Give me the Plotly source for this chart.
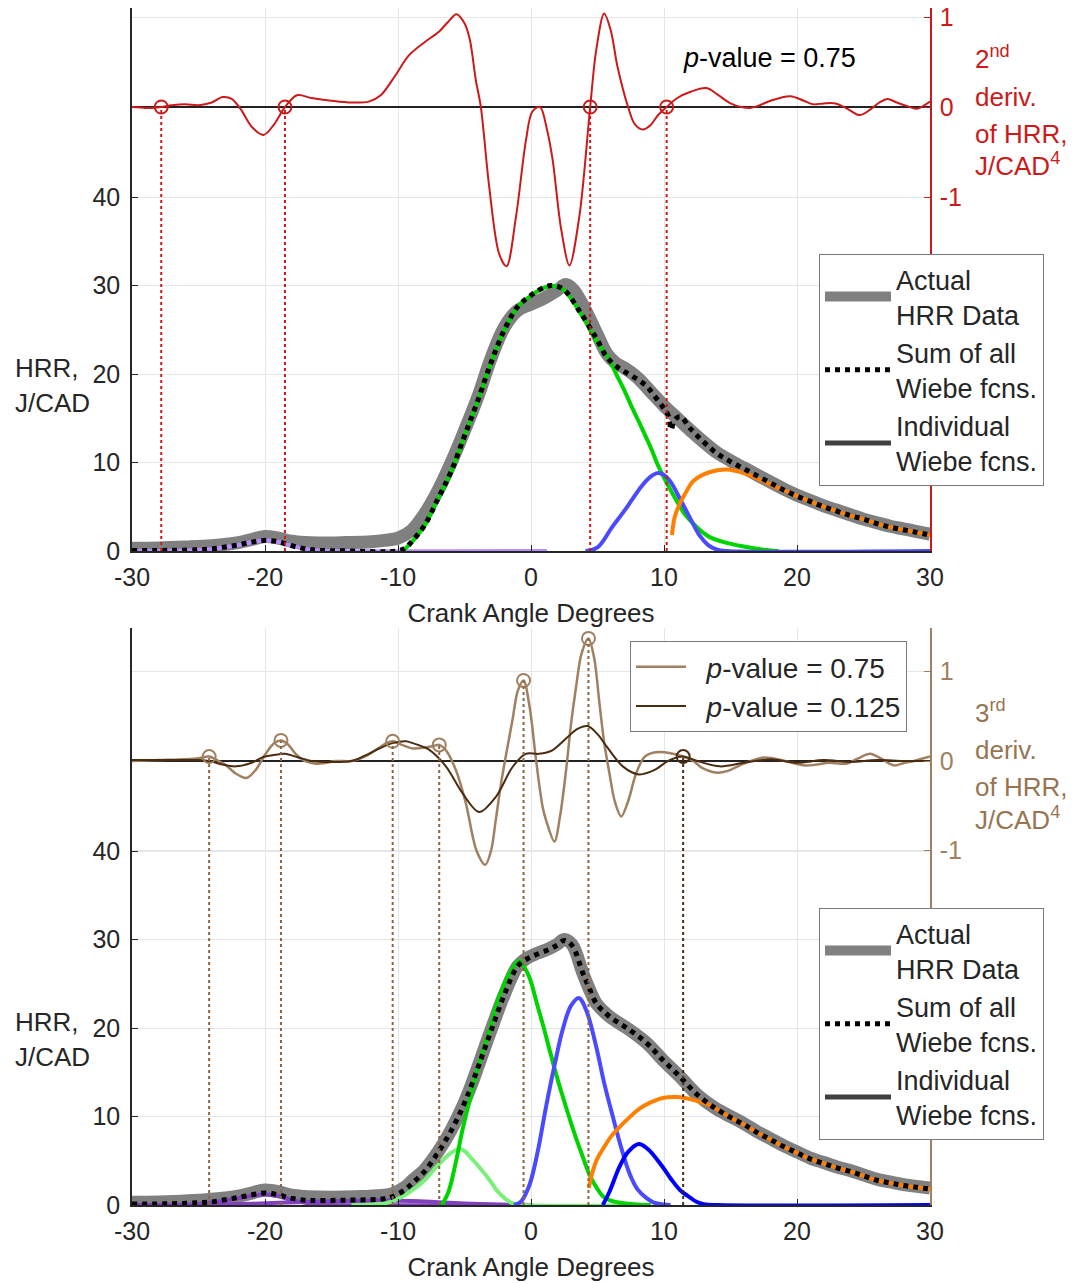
import plotly.graph_objects as go

W, H = 1073, 1283
FONT = "Liberation Sans, Arial, Helvetica, sans-serif"
INK = "#262626"
GRID = "#e6e6e6"

# ---------------- upper panel: 2nd derivative of HRR ----------------
TOP_ACTUAL = [(-30, 0.3), (-28, 0.35), (-26, 0.45), (-24, 0.6), (-22, 0.95), (-21, 1.3), (-20, 1.65),
              (-19, 1.45), (-18, 1.1), (-17, 0.95), (-16, 0.9), (-14, 0.95), (-12, 1.05), (-11, 1.2),
              (-10, 1.45), (-9, 2.3), (-8, 4.2), (-7, 6.8), (-6, 10.0), (-5, 13.6), (-4, 17.4), (-3, 21.8),
              (-2, 25.3), (-1, 27.2), (0, 27.9), (1, 28.6), (2, 29.5), (2.6, 30.1), (3.2, 29.5), (4, 27.5),
              (4.5, 26.0), (5, 24.4), (5.7, 22.3), (6.4, 21.2), (7, 20.7), (8, 19.6), (9, 18.0), (10, 16.4),
              (11, 15.0), (12, 13.6), (13, 12.3), (14, 11.1), (15, 10.2), (16, 9.4), (17, 8.6), (18, 7.8),
              (19, 7.0), (20, 6.3), (21, 5.7), (22, 5.1), (23, 4.6), (24, 4.1), (25, 3.6), (26, 3.2),
              (27, 2.8), (28, 2.5), (29, 2.2), (30, 1.9)]
TOP_SUM = [(-30, 0.05), (-27, 0.08), (-25, 0.15), (-24, 0.25), (-23, 0.45), (-22, 0.7), (-21, 1.0), (-20, 1.2),
           (-19, 1.05), (-18, 0.6), (-17, 0.25), (-16, 0.08), (-14, 0.02), (-10, 0.02), (-9.4, 0.4), (-9, 1.0),
           (-8, 2.9), (-7, 5.9), (-6, 9.0), (-5, 13.0), (-4, 17.0), (-3, 21.3), (-2, 25.0), (-1, 27.6),
           (0, 28.9), (1, 29.8), (1.5, 30.0), (2, 29.9), (2.5, 29.5), (3, 28.6), (3.6, 27.2), (4, 26.3),
           (4.6, 24.8), (5, 23.8), (5.65, 22.0), (6.3, 21.0), (7, 20.3), (8, 19.4), (8.7, 18.6), (9.3, 17.5),
           (9.9, 16.3), (10.3, 15.4), (10.55, 13.7), (10.75, 14.7), (11.2, 15.2), (12, 13.8), (13, 12.3),
           (14, 11.0), (15, 10.1), (16, 9.3), (17, 8.5), (18, 7.7), (19, 6.9), (20, 6.2), (21, 5.6), (22, 5.0),
           (23, 4.5), (24, 4.0), (25, 3.6), (26, 3.1), (27, 2.7), (28, 2.4), (29, 2.1), (30, 1.8)]
TOP_PURPLE = [(-30, 0), (-27, 0.02), (-25, 0.12), (-24, 0.22), (-23, 0.42), (-22, 0.68), (-21, 0.98),
              (-20, 1.18), (-19, 1.03), (-18, 0.58), (-17, 0.22), (-16, 0.06), (-15, 0), (1.2, 0)]
TOP_GREEN = [(-9.6, 0), (-9.4, 0.35), (-9, 0.95), (-8, 2.85), (-7, 5.85), (-6, 8.95), (-5, 12.95),
             (-4, 16.95), (-3, 21.25), (-2, 24.95), (-1, 27.55), (0, 28.85), (1, 29.75), (1.5, 29.95),
             (2, 29.85), (2.5, 29.45), (3, 28.55), (3.6, 27.15), (4, 26.2), (4.6, 24.6), (5, 23.5),
             (5.75, 22.0), (6.4, 20.0), (7, 18.2), (7.6, 16.2), (8.3, 14.0), (9, 11.7), (9.6, 9.5),
             (10.2, 7.7), (10.9, 5.8), (11.5, 4.3), (12.2, 3.1), (13, 2.0), (13.4, 1.6), (14.5, 1.0),
             (16, 0.5), (17.5, 0.15), (18.6, 0)]
TOP_BLUE = [(4.1, 0), (5, 0.4), (6.1, 2.7), (7, 4.5), (7.6, 5.8), (8.3, 7.3), (9, 8.4), (9.5, 8.8),
            (10, 8.6), (10.5, 7.8), (11.2, 5.9), (12, 3.6), (12.7, 1.7), (13.3, 0.7), (14, 0.15),
            (14.7, 0), (30, 0)]
TOP_ORANGE = [(10.6, 1.8), (10.8, 3.8), (11.2, 5.4), (11.6, 6.5), (12.2, 7.9), (13.4, 8.9), (14.7, 9.2),
              (16, 8.8), (17.3, 8.0), (18.6, 7.1), (19, 6.9), (20, 6.2), (21, 5.6), (22, 5.0), (23, 4.5),
              (24, 4.0), (25, 3.6), (26, 3.1), (27, 2.7), (28, 2.4), (29, 2.1), (30, 1.8)]
SECOND_DERIV = [(-30, 0.0), (-29, -0.01), (-28.5, -0.01), (-27.8, 0.0), (-27, 0.02), (-26, 0.03), (-25, 0.02),
                (-24, 0.05), (-23.2, 0.11), (-22.5, 0.09), (-21.8, -0.03), (-21, -0.22), (-20.1, -0.31),
                (-19.3, -0.19), (-18.5, 0.0), (-17.6, 0.13), (-16.5, 0.10), (-15, 0.07), (-13.5, 0.05),
                (-12.2, 0.06), (-11.3, 0.13), (-10.2, 0.35), (-9.2, 0.57), (-8, 0.72), (-6.9, 0.84),
                (-6.2, 0.95), (-5.6, 1.03), (-5.0, 0.93), (-4.6, 0.75), (-4.15, 0.3), (-3.77, 0.0),
                (-3.14, -0.89), (-2.4, -1.63), (-1.84, -1.77), (-1.13, -1.22), (-0.38, -0.37), (0.1, -0.05),
                (0.68, 0.0), (1.2, -0.25), (1.63, -0.59), (2.26, -1.35), (2.89, -1.76), (3.64, -1.21),
                (4.45, 0.0), (4.9, 0.63), (5.5, 1.04), (6.0, 0.85), (6.5, 0.45), (7.3, 0.0), (7.8, -0.19),
                (8.4, -0.25), (9.0, -0.2), (9.5, -0.1), (10.2, 0.0), (11, 0.1), (12, 0.17), (13.2, 0.21),
                (14, 0.14), (15, 0.04), (15.8, 0.0), (16.5, -0.01), (17.2, 0.02), (18, 0.07), (19.5, 0.12),
                (20.5, 0.07), (21.2, 0.03), (22.0, 0.04), (22.9, 0.04), (23.8, -0.02), (24.7, -0.09),
                (25.5, -0.03), (26.2, 0.05), (26.8, 0.09), (27.5, 0.05), (28.3, 0.01), (29, -0.02), (30, 0.06)]
SECOND_DERIV_ZEROS = [-27.8, -18.5, 4.45, 10.2]

# ---------------- lower panel: 3rd derivative of HRR ----------------
BOT_ACTUAL = [(-30, 0.3), (-28, 0.35), (-26, 0.45), (-24, 0.65), (-22, 1.0), (-21, 1.35), (-20, 1.7),
              (-19, 1.5), (-18, 1.1), (-17, 0.95), (-16, 0.9), (-14, 0.9), (-12.7, 0.95), (-11, 1.1),
              (-10.4, 1.3), (-9.5, 2.0), (-8.9, 2.8), (-8, 4.0), (-7, 6.0), (-6, 8.5), (-5.15, 11.1),
              (-4.5, 13.5), (-3.9, 16.0), (-3, 19.8), (-2, 23.8), (-1, 27.0), (-0.3, 27.9), (0.4, 28.4),
              (1.4, 29.0), (2, 29.5), (2.5, 30.0), (3.1, 29.4), (3.9, 26.2), (4.5, 24.0), (4.9, 22.8),
              (5.9, 21.3), (7.4, 19.8), (8.7, 18.3), (9.9, 16.4), (11.2, 14.5), (12.4, 12.6), (13.4, 11.4),
              (14, 10.8), (15, 10.0), (16, 9.2), (17, 8.3), (18, 7.5), (19, 6.7), (20, 6.0), (21, 5.3),
              (22, 4.8), (23, 4.3), (24, 3.9), (25, 3.4), (26, 2.9), (27, 2.6), (28, 2.3), (29, 2.1), (30, 1.9)]
BOT_SUM = [(-30, 0.1), (-27, 0.15), (-25, 0.25), (-24, 0.35), (-23, 0.6), (-22, 0.85), (-21, 1.15),
           (-20, 1.35), (-19, 1.15), (-18, 0.75), (-17, 0.55), (-16, 0.5), (-14, 0.55), (-12, 0.6),
           (-11, 0.7), (-10.4, 0.95), (-9.5, 1.7), (-8.9, 2.5), (-8, 3.8), (-7, 5.9), (-6, 8.4),
           (-5.15, 11.0), (-4.5, 13.4), (-3.9, 15.9), (-3, 19.7), (-2, 23.8), (-1, 27.0), (-0.3, 27.8),
           (0.4, 28.3), (1.4, 28.9), (2, 29.4), (2.5, 29.9), (3.1, 29.3), (3.9, 26.2), (4.3, 24.8),
           (4.9, 22.8), (5.9, 21.3), (7.4, 19.8), (8.7, 18.3), (9.9, 16.4), (11.2, 14.5), (12.4, 12.6),
           (13.4, 11.4), (14, 10.8), (15, 9.9), (16, 9.1), (17, 8.2), (18, 7.4), (19, 6.6), (20, 5.9),
           (21, 5.2), (22, 4.7), (23, 4.2), (24, 3.8), (25, 3.3), (26, 2.8), (27, 2.5), (28, 2.2),
           (29, 2.0), (30, 1.8)]
BOT_PURPLE_A = [(-30, 0), (-26, 0.02), (-25, 0.1), (-24, 0.25), (-23, 0.5), (-22, 0.78), (-21, 1.05),
                (-20, 1.2), (-19, 1.02), (-18, 0.6), (-17, 0.25), (-16, 0.07), (-15, 0), (-1, 0)]
BOT_PURPLE_B = [(-25, 0), (-22, 0.1), (-19, 0.25), (-17, 0.35), (-15, 0.42), (-13, 0.48), (-11, 0.5),
                (-9, 0.45), (-7, 0.32), (-5, 0.18), (-3, 0.08), (-1, 0.02), (0, 0)]
BOT_LIGHTGREEN = [(-13.5, 0), (-12, 0.05), (-11, 0.2), (-10.4, 0.45), (-9.5, 1.1), (-8.9, 1.7), (-8, 2.8),
                  (-7, 4.5), (-6, 5.9), (-5.4, 6.3), (-5, 6.1), (-4.5, 5.3), (-3.9, 4.3), (-3, 2.6),
                  (-2.6, 1.7), (-2, 0.8), (-1.4, 0.2), (-0.5, 0), (9, 0)]
BOT_GREEN = [(-6.7, 0), (-6.2, 1.5), (-5.7, 4.5), (-5.15, 8.5), (-4.5, 12.5), (-3.9, 16.0), (-3, 20.3),
             (-2.6, 22.6), (-2, 25.0), (-1.5, 26.5), (-0.9, 27.6), (-0.4, 26.6), (0, 25.2), (0.4, 23.0),
             (1, 19.8), (1.4, 17.5), (2, 14.2), (2.4, 12.2), (3, 9.3), (3.4, 7.5), (4, 5.0), (4.4, 3.4),
             (5, 1.8), (5.4, 1.0), (6, 0.5), (7, 0.2), (8, 0.05), (9, 0)]
BOT_BLUE_A = [(-1.3, 0), (-0.8, 0.3), (-0.13, 2.2), (0.5, 6.0), (1.13, 11.1), (1.8, 16.0), (2.38, 19.8),
              (3, 22.5), (3.6, 23.4), (4.2, 21.8), (4.9, 17.9), (5.5, 13.8), (6.15, 10.0), (6.8, 6.4),
              (7.4, 3.6), (8, 1.8), (8.67, 0.8), (9.2, 0.3), (10, 0.05), (10.5, 0)]
BOT_BLUE_B = [(5.4, 0), (5.9, 1.5), (6.65, 4.3), (7.3, 6.0), (8.1, 6.9), (8.8, 6.3), (9.9, 4.3),
              (10.5, 3.0), (11.2, 1.7), (12, 0.8), (12.4, 0.4), (13, 0.1), (14, 0), (30, 0)]
BOT_ORANGE = [(4.35, 1.9), (4.6, 3.6), (5.0, 5.3), (5.4, 6.3), (6, 7.7), (6.65, 8.8), (7.4, 9.9),
              (8.16, 10.9), (9, 11.6), (9.9, 12.1), (10.9, 12.2), (11.6, 12.1), (12.4, 11.8), (13.4, 11.3),
              (14, 10.8), (15, 9.9), (16, 9.1), (17, 8.2), (18, 7.4), (19, 6.6), (20, 5.9), (21, 5.2),
              (22, 4.7), (23, 4.2), (24, 3.8), (25, 3.3), (26, 2.8), (27, 2.5), (28, 2.2), (29, 2.0), (30, 1.8)]
THIRD_DERIV_P075 = [(-30, 0.0), (-28, 0.01), (-26, 0.02), (-25, 0.03), (-24.2, 0.05), (-23.5, 0.0),
                    (-23, -0.04), (-22.2, -0.14), (-21.4, -0.19), (-20.7, -0.1), (-20.0, 0.07), (-19.3, 0.2),
                    (-18.8, 0.23), (-18.3, 0.19), (-17.7, 0.08), (-17, 0.0), (-16.2, -0.03), (-15.4, -0.02),
                    (-14.7, 0.0), (-13.5, 0.0), (-12.5, 0.05), (-11.9, 0.1), (-11, 0.19), (-10.4, 0.22),
                    (-9.7, 0.18), (-8.9, 0.14), (-8, 0.15), (-7.3, 0.17), (-6.9, 0.18), (-6.4, 0.12),
                    (-5.65, -0.1), (-4.9, -0.47), (-4.1, -1.0), (-3.44, -1.16), (-3.0, -1.0), (-2.64, -0.65),
                    (-2.25, -0.25), (-1.9, 0.05), (-1.39, 0.46), (-1.0, 0.78), (-0.56, 0.9), (-0.1, 0.6),
                    (0.38, 0.01), (0.87, -0.51), (1.13, -0.66), (1.76, -0.9), (2.2, -0.6), (2.64, -0.1),
                    (3.0, 0.4), (3.39, 0.83), (3.8, 1.2), (4.32, 1.37), (4.75, 1.15), (5.15, 0.64),
                    (5.5, 0.21), (5.9, -0.14), (6.3, -0.45), (6.78, -0.62), (7.3, -0.45), (7.9, -0.14),
                    (8.5, 0.04), (8.9, 0.08), (9.67, 0.1), (10.4, 0.09), (11.44, 0.05), (12.2, 0.0),
                    (12.9, -0.08), (14.0, -0.13), (14.8, -0.11), (16, -0.03), (17.5, 0.04), (19.1, 0.0),
                    (20.6, -0.05), (21.5, -0.04), (22.4, -0.02), (23.7, -0.03), (24.6, 0.03), (25.5, 0.08),
                    (26.4, 0.02), (27.3, -0.05), (28.1, -0.02), (28.8, 0.0), (30, 0.05)]
THIRD_DERIV_P0125 = [(-30, 0.01), (-28, 0.01), (-26, 0.01), (-25, 0.01), (-24.2, 0.0), (-23.2, -0.04),
                     (-22.2, -0.06), (-21, -0.02), (-20.2, 0.04), (-19.2, 0.07), (-18.5, 0.08), (-17.5, 0.04),
                     (-16.5, 0.0), (-15.5, -0.01), (-13.5, 0.0), (-12.5, 0.06), (-11.4, 0.14), (-10.4, 0.2),
                     (-9.4, 0.22), (-8.9, 0.2), (-7.7, 0.13), (-6.4, -0.06), (-5.15, -0.36), (-3.9, -0.57),
                     (-2.64, -0.4), (-1.4, -0.07), (-0.4, 0.08), (0.6, 0.08), (1.6, 0.12), (2.7, 0.26),
                     (3.5, 0.36), (4.27, 0.39), (5.0, 0.3), (5.7, 0.16), (6.9, -0.06), (8.1, -0.15),
                     (9.3, -0.1), (10.3, 0.0), (11.4, 0.05), (12.5, 0.0), (14.2, -0.06), (16, -0.02),
                     (18, 0.02), (20, -0.02), (22, 0.01), (24, -0.01), (26, 0.01), (28, 0.0), (30, 0.0)]
THIRD_DERIV_PEAKS = [(-24.2, 0.05), (-18.8, 0.23), (-10.4, 0.22), (-6.9, 0.18), (-0.56, 0.9), (4.32, 1.37)]
THIRD_DERIV_PEAKS_P0125 = [(11.44, 0.05)]

X_TICKS = [-30, -20, -10, 0, 10, 20, 30]
HRR_TICKS = [0, 10, 20, 30, 40]
DERIV_TICKS = [-1, 0, 1]

# ---------------- styling ----------------
RED = "#cc1a1a"
BROWN_LIGHT = "#a08060"
BROWN_DARK = "#4a2c10"
BROWN_TEXT = "#977552"
GRAY_BAND = "#808080"
C_GREEN = "#00d400"
C_LIGHTGREEN = "#7af07a"
C_BLUE_A = "#4a4aff"
C_BLUE_B = "#0000ff"
C_ORANGE = "#ff8000"
C_PURPLE_LIGHT = "#b98cff"
C_PURPLE_DARK = "#8040c0"

# pixel layout of the two panels
X_LEFT_PX, X_RIGHT_PX = 132, 930
HRR_PX_PER_UNIT = 8.85
TOP_PX = dict(top=8, bottom=551, deriv_zero=107, deriv_unit=90.0)
BOT_PX = dict(top=628, bottom=1205, deriv_zero=761, deriv_unit=89.5)
NBSP = "\u00a0"


def px_x(px):
    return px / W


def px_y(py):
    return 1 - py / H


def unzip(pairs):
    return [p[0] for p in pairs], [p[1] for p in pairs]


def tick_text(vals):
    # plain hyphen for negative numbers
    return [("-" + str(abs(v))) if v < 0 else str(v) for v in vals]


def panel_ranges(spec):
    hrr_top = (spec["bottom"] - spec["top"]) / HRR_PX_PER_UNIT
    d_lo = -(spec["bottom"] - spec["deriv_zero"]) / spec["deriv_unit"]
    d_hi = (spec["deriv_zero"] - spec["top"]) / spec["deriv_unit"]
    return [0, hrr_top], [d_lo, d_hi]


TOP_HRR_RANGE, TOP_DERIV_RANGE = panel_ranges(TOP_PX)
BOT_HRR_RANGE, BOT_DERIV_RANGE = panel_ranges(BOT_PX)

fig = go.Figure()


def line_trace(pairs, color, width, xa, ya, name=None, legend=None, dash=None, show=False, smooth=1.0):
    xs, ys = unzip(pairs)
    return go.Scatter(x=xs, y=ys, mode="lines", xaxis=xa, yaxis=ya, name=name, legend=legend,
                      showlegend=show, hoverinfo="skip",
                      line=dict(color=color, width=width, dash=dash, shape="spline", smoothing=smooth))


# ---- upper panel traces ----
fig.add_trace(line_trace(TOP_ACTUAL, GRAY_BAND, 13, "x", "y", "Actual<br>HRR Data", "legend", show=True))
fig.add_trace(line_trace(TOP_PURPLE, C_PURPLE_LIGHT, 4, "x", "y"))
fig.add_trace(line_trace(TOP_GREEN, C_GREEN, 4, "x", "y"))
fig.add_trace(line_trace(TOP_BLUE, C_BLUE_A, 4, "x", "y"))
fig.add_trace(line_trace(TOP_ORANGE, C_ORANGE, 4, "x", "y"))
fig.add_trace(line_trace(TOP_SUM, "black", 5, "x", "y", "Sum of all<br>Wiebe fcns.", "legend", dash="dot", show=True))
fig.add_trace(go.Scatter(x=[None], y=[None], mode="lines", xaxis="x", yaxis="y", legend="legend",
                         name="Individual<br>Wiebe fcns.", line=dict(color="#404040", width=5)))
fig.add_trace(line_trace(SECOND_DERIV, RED, 2, "x", "y2", smooth=0.9))
fig.add_trace(go.Scatter(x=SECOND_DERIV_ZEROS, y=[0] * len(SECOND_DERIV_ZEROS), mode="markers",
                         xaxis="x", yaxis="y2", showlegend=False, hoverinfo="skip",
                         marker=dict(symbol="circle-open", size=13, color=RED, line=dict(width=2))))

# ---- lower panel traces ----
fig.add_trace(line_trace(BOT_ACTUAL, GRAY_BAND, 13, "x2", "y3", "Actual<br>HRR Data", "legend2", show=True))
fig.add_trace(line_trace(BOT_PURPLE_B, C_PURPLE_DARK, 4, "x2", "y3"))
fig.add_trace(line_trace(BOT_PURPLE_A, C_PURPLE_DARK, 4, "x2", "y3"))
fig.add_trace(line_trace(BOT_LIGHTGREEN, C_LIGHTGREEN, 4, "x2", "y3"))
fig.add_trace(line_trace(BOT_GREEN, C_GREEN, 4, "x2", "y3"))
fig.add_trace(line_trace(BOT_BLUE_A, C_BLUE_A, 4, "x2", "y3"))
fig.add_trace(line_trace(BOT_BLUE_B, C_BLUE_B, 4, "x2", "y3"))
fig.add_trace(line_trace(BOT_ORANGE, C_ORANGE, 4, "x2", "y3"))
fig.add_trace(line_trace(BOT_SUM, "black", 5, "x2", "y3", "Sum of all<br>Wiebe fcns.", "legend2", dash="dot", show=True))
fig.add_trace(go.Scatter(x=[None], y=[None], mode="lines", xaxis="x2", yaxis="y3", legend="legend2",
                         name="Individual<br>Wiebe fcns.", line=dict(color="#404040", width=5)))
fig.add_trace(line_trace(THIRD_DERIV_P075, BROWN_LIGHT, 2.5, "x2", "y4", NBSP * 2 + "<i>p</i>-value = 0.75",
                         "legend3", show=True, smooth=0.9))
fig.add_trace(line_trace(THIRD_DERIV_P0125, BROWN_DARK, 2, "x2", "y4", NBSP * 2 + "<i>p</i>-value = 0.125",
                         "legend3", show=True, smooth=0.9))
pk_x, pk_y = unzip(THIRD_DERIV_PEAKS)
fig.add_trace(go.Scatter(x=pk_x, y=pk_y, mode="markers", xaxis="x2", yaxis="y4", showlegend=False,
                         hoverinfo="skip",
                         marker=dict(symbol="circle-open", size=13, color=BROWN_LIGHT, line=dict(width=2))))
pk2_x, pk2_y = unzip(THIRD_DERIV_PEAKS_P0125)
fig.add_trace(go.Scatter(x=pk2_x, y=pk2_y, mode="markers", xaxis="x2", yaxis="y4", showlegend=False,
                         hoverinfo="skip",
                         marker=dict(symbol="circle-open", size=13, color=BROWN_DARK, line=dict(width=2))))

# ---- dotted drop lines from the derivative markers down to HRR = 0 ----
shapes = []
for xv in SECOND_DERIV_ZEROS:
    shapes.append(dict(type="line", xref="x", yref="y2", x0=xv, x1=xv, y0=TOP_DERIV_RANGE[0], y1=0,
                       line=dict(color=RED, width=2, dash="dot"), layer="above"))
for xv, yv in THIRD_DERIV_PEAKS:
    shapes.append(dict(type="line", xref="x2", yref="y4", x0=xv, x1=xv, y0=BOT_DERIV_RANGE[0], y1=yv,
                       line=dict(color="#8a6643", width=2, dash="dot"), layer="above"))
for xv, yv in THIRD_DERIV_PEAKS_P0125:
    shapes.append(dict(type="line", xref="x2", yref="y4", x0=xv, x1=xv, y0=BOT_DERIV_RANGE[0], y1=yv,
                       line=dict(color=BROWN_DARK, width=2, dash="dot"), layer="above"))

TICKFONT = dict(family=FONT, size=25, color=INK)
x_dom = [px_x(X_LEFT_PX), px_x(X_RIGHT_PX)]
top_dom = [px_y(TOP_PX["bottom"]), px_y(TOP_PX["top"])]
bot_dom = [px_y(BOT_PX["bottom"]), px_y(BOT_PX["top"])]


def x_axis(anchor):
    return dict(domain=x_dom, anchor=anchor, range=[-30, 30], tickvals=X_TICKS, ticktext=tick_text(X_TICKS),
                showline=True, linecolor=INK, linewidth=1.5, ticks="inside", ticklen=6, tickcolor=INK,
                tickwidth=1, showgrid=True, gridcolor=GRID, gridwidth=1, zeroline=False, tickfont=TICKFONT,
                ticklabelstandoff=3, automargin=False,
                title=dict(text="Crank Angle Degrees", font=dict(family=FONT, size=26, color=INK), standoff=14))


def hrr_axis(dom, rng, anchor):
    return dict(domain=dom, anchor=anchor, range=rng, tickvals=HRR_TICKS, ticktext=tick_text(HRR_TICKS),
                showline=True, linecolor=INK, linewidth=1.5, ticks="inside", ticklen=6, tickcolor=INK,
                showgrid=True, gridcolor=GRID, zeroline=False, tickfont=TICKFONT, ticklabelstandoff=5,
                automargin=False)


def deriv_axis(over, anchor, rng, color):
    return dict(overlaying=over, anchor=anchor, side="right", range=rng, tickvals=DERIV_TICKS,
                ticktext=tick_text(DERIV_TICKS), showline=True, linecolor=color, linewidth=1.5,
                ticks="inside", ticklen=6, tickcolor=color, showgrid=True, gridcolor=GRID, zeroline=True,
                zerolinecolor="#222222", zerolinewidth=2, tickfont=dict(family=FONT, size=25, color=color),
                ticklabelstandoff=3, automargin=False)


legend_style = dict(xanchor="left", yanchor="top", bgcolor="white", bordercolor="#7a7a7a", borderwidth=1,
                    tracegroupgap=0, valign="middle")

annotations = []


def text_at(text, x_px, y_px, color=INK, size=26, xanchor="left"):
    annotations.append(dict(text=text, x=px_x(x_px), y=px_y(y_px), xref="paper", yref="paper",
                            xanchor=xanchor, yanchor="middle", showarrow=False,
                            font=dict(family=FONT, size=size, color=color)))


# left axis titles
text_at("HRR,", 13, 368)
text_at("J/CAD", 13, 403)
text_at("HRR,", 13, 1022)
text_at("J/CAD", 13, 1057)
# right axis titles
for t, yy in zip(["2<sup>nd</sup>", "deriv.", "of HRR,", "J/CAD<sup>4</sup>"], [58, 97, 134, 165]):
    text_at(t, 973, yy, color=RED)
for t, yy in zip(["3<sup>rd</sup>", "deriv.", "of HRR,", "J/CAD<sup>4</sup>"], [711, 750, 787, 818]):
    text_at(t, 973, yy, color=BROWN_TEXT)
text_at("<i>p</i>-value = 0.75", 681, 58, color="black", size=27)

fig.update_layout(
    width=W, height=H, margin=dict(l=0, r=0, t=0, b=0, pad=0), autosize=False,
    paper_bgcolor="white", plot_bgcolor="white", font=dict(family=FONT, color=INK),
    xaxis=x_axis("y"), yaxis=hrr_axis(top_dom, TOP_HRR_RANGE, "x"),
    yaxis2=deriv_axis("y", "x", TOP_DERIV_RANGE, RED),
    xaxis2=x_axis("y3"), yaxis3=hrr_axis(bot_dom, BOT_HRR_RANGE, "x2"),
    yaxis4=deriv_axis("y3", "x2", BOT_DERIV_RANGE, BROWN_LIGHT),
    legend=dict(x=px_x(819), y=px_y(254), itemwidth=66, font=dict(family=FONT, size=27, color=INK),
                **legend_style),
    legend2=dict(x=px_x(819), y=px_y(908), itemwidth=66, font=dict(family=FONT, size=27, color=INK),
                 **legend_style),
    legend3=dict(x=px_x(630), y=px_y(641), itemwidth=50, font=dict(family=FONT, size=28, color=INK),
                 **legend_style),
    shapes=shapes, annotations=annotations, showlegend=True,
)

fig.write_html("out.html")
